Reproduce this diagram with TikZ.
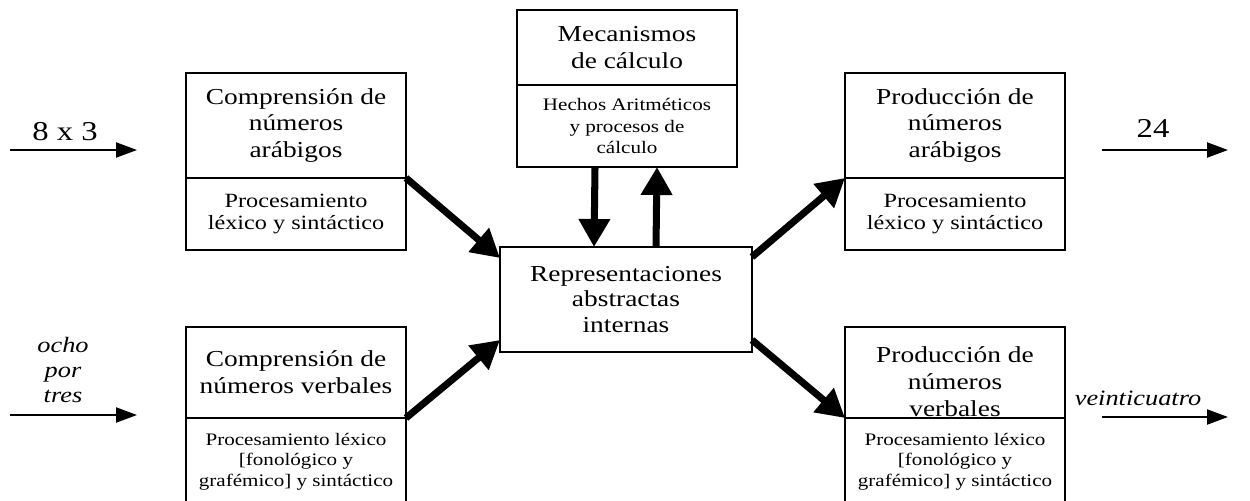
\documentclass[tikz,border=0pt]{standalone}
\usepackage{fontspec}
\setmainfont{Liberation Serif}[FakeStretch=1.2]
\usetikzlibrary{positioning, arrows.meta}

\begin{document}
\begin{tikzpicture}[x=0.02cm, y=-0.02cm,
    boxtop/.style={draw, line width=1.2pt, outer sep=0pt, minimum width=4.4cm, align=center, font=\fontsize{13}{15.3}\selectfont},
    boxlow/.style={draw, line width=1.2pt, outer sep=0pt, minimum width=4.4cm, align=center},
    bigarrow/.style={line width=4pt, -{Triangle[length=0.56cm, width=0.6cm]}},
    thinarrow/.style={line width=1.2pt, -{Triangle[length=0.42cm, width=0.3cm]}}]
    \useasboundingbox (0,0) rectangle (1250,500);
    \clip (0,0) rectangle (1250,500);
    \node[boxtop, minimum height=2.1cm] (compA) at (296,125.5) {Comprensión de\\números\\arábigos};
    \node[boxlow, below=0pt of compA, minimum height=1.44cm, font=\fontsize{11.5}{13}\selectfont] (compAproc) {Procesamiento\\léxico y sintáctico};
    \node[boxtop, minimum height=1.82cm] (compV) at (296,372.5) {Comprensión de\\números verbales};
    \node[boxlow, below=0pt of compV, minimum height=1.74cm, font=\fontsize{10}{11.6}\selectfont] (compVproc) {Procesamiento léxico\\{[}fonológico y\\grafémico{]} y sintáctico};
    \node[boxtop, minimum height=1.5cm] (calc) at (627,47.5) {Mecanismos\\de cálculo};
    \node[boxlow, below=0pt of calc, minimum height=1.64cm, font=\fontsize{10}{12}\selectfont] (calcHechos) {Hechos Aritméticos\\y procesos de\\cálculo};
    \node[boxtop, minimum width=5.04cm, minimum height=2.1cm, font=\fontsize{13}{14.7}\selectfont] (repr) at (626,299.5) {Representaciones\\abstractas\\internas};
    \node[boxtop, minimum height=2.1cm] (prodA) at (955,125.5) {Producción de\\números\\arábigos};
    \node[boxlow, below=0pt of prodA, minimum height=1.44cm, font=\fontsize{11.5}{13}\selectfont] (prodAproc) {Procesamiento\\léxico y sintáctico};
    \node[boxtop, minimum height=1.82cm, label={[align=center, font=\fontsize{13}{15.3}\selectfont, yshift=-0.18cm]center:Producción de\\números\\verbales}] (prodV) at (955,372.5) {};
    \node[boxlow, below=0pt of prodV, minimum height=1.74cm, font=\fontsize{10}{11.6}\selectfont] (prodVproc) {Procesamiento léxico\\{[}fonológico y\\grafémico{]} y sintáctico};

    \node[font=\fontsize{15.5}{18}\selectfont] (mult) at (65,132) {8 x 3};
    \node[font=\itshape\fontsize{12.5}{14.2}\selectfont, align=center] (ocho) at (63,370) {ocho\\por\\tres};
    \node[font=\fontsize{15.5}{18}\selectfont] (res) at (1153,128) {24};
    \node[font=\itshape\fontsize{12.5}{14.2}\selectfont] (veinti) at (1138,398) {veinticuatro};

    \coordinate (inA) at (10,150);
    \coordinate (inAend) at (137,150);
    \coordinate (inV) at (10,415);
    \coordinate (inVend) at (137,415);
    \coordinate (outA) at (1102,150);
    \coordinate (outAend) at (1228,150);
    \coordinate (outV) at (1102,417);
    \coordinate (outVend) at (1228,417);
    \draw[thinarrow] (inA) -- (inAend);
    \draw[thinarrow] (inV) -- (inVend);
    \draw[thinarrow] (outA) -- (outAend);
    \draw[thinarrow] (outV) -- (outVend);

    \draw[bigarrow] (compAproc.north east) -- ([yshift=-0.22cm]repr.north west);
    \draw[bigarrow] (compVproc.north east) -- ([yshift=0.24cm]repr.south west);
    \draw[bigarrow] ([yshift=-0.2cm]repr.north east) -- (prodAproc.north west);
    \draw[bigarrow] ([yshift=0.24cm]repr.south east) -- (prodVproc.north west);
    \draw[bigarrow] ([xshift=-0.64cm]calcHechos.south) -- ([xshift=-0.64cm]repr.north);
    \draw[bigarrow] ([xshift=0.6cm]repr.north) -- ([xshift=0.6cm]calcHechos.south);
\end{tikzpicture}
\end{document}
